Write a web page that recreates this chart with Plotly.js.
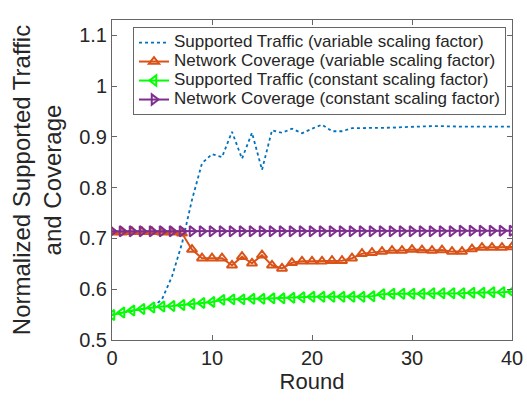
<!DOCTYPE html>
<html>
<head>
<meta charset="utf-8">
<script src="https://cdn.plot.ly/plotly-3.0.1.min.js"></script>
<style>html,body{margin:0;padding:0;background:#fff;}#chart{width:527px;height:402px;}</style>
</head>
<body>
<div id="chart"></div>
<script>
const rounds = Array.from({length: 41}, (_, i) => i);

const trafficVariable = [0.550, 0.554, 0.558, 0.561, 0.564, 0.580, 0.625, 0.690, 0.776, 0.848,
  0.866, 0.860, 0.910, 0.857, 0.908, 0.835, 0.913, 0.908, 0.916, 0.907,
  0.916, 0.924, 0.911, 0.911, 0.917, 0.917, 0.918, 0.918, 0.918, 0.919,
  0.920, 0.920, 0.921, 0.921, 0.920, 0.920, 0.920, 0.920, 0.920, 0.920, 0.920];

const coverageVariable = [0.712, 0.712, 0.713, 0.713, 0.713, 0.712, 0.712, 0.710, 0.678, 0.661,
  0.661, 0.661, 0.647, 0.664, 0.651, 0.667, 0.647, 0.641, 0.652, 0.655,
  0.655, 0.655, 0.656, 0.656, 0.661, 0.670, 0.672, 0.674, 0.676, 0.676,
  0.678, 0.677, 0.676, 0.677, 0.674, 0.674, 0.679, 0.682, 0.682, 0.682, 0.683];

const trafficConstant = [0.549, 0.554, 0.558, 0.561, 0.564, 0.566, 0.567, 0.569, 0.571, 0.573,
  0.575, 0.579, 0.580, 0.580, 0.581, 0.581, 0.582, 0.582, 0.583, 0.584,
  0.585, 0.585, 0.585, 0.585, 0.585, 0.585, 0.586, 0.590, 0.591, 0.591,
  0.591, 0.591, 0.592, 0.592, 0.592, 0.592, 0.593, 0.593, 0.594, 0.594, 0.595];

const coverageConstant = [0.714, 0.714, 0.714, 0.714, 0.714, 0.714, 0.714, 0.714, 0.714, 0.714,
  0.714, 0.714, 0.714, 0.714, 0.714, 0.714, 0.714, 0.714, 0.714, 0.714,
  0.714, 0.714, 0.714, 0.714, 0.714, 0.714, 0.714, 0.714, 0.714, 0.714,
  0.714, 0.714, 0.714, 0.714, 0.714, 0.715, 0.715, 0.715, 0.715, 0.715, 0.715];

const seriesNames = [
  'Supported Traffic (variable scaling factor)',
  'Network Coverage (variable scaling factor)',
  'Supported Traffic (constant scaling factor)',
  'Network Coverage (constant scaling factor)'
];
const xTicks = [0, 10, 20, 30, 40];
const yTicks = [0.5, 0.6, 0.7, 0.8, 0.9, 1, 1.1];

const legendName = s => '<span style="font-size:17px">' + s + '</span>';

const traces = [
  {x: rounds, y: trafficVariable, name: legendName(seriesNames[0]), mode: 'lines',
   line: {color: '#0072BD', width: 1.8, dash: 'dot'}},
  {x: rounds, y: coverageVariable, name: legendName(seriesNames[1]), mode: 'lines+markers',
   line: {color: '#D95319', width: 2},
   marker: {symbol: 'triangle-up-open', size: 9, color: '#D95319', line: {width: 2, color: '#D95319'}}},
  {x: rounds, y: trafficConstant, name: legendName(seriesNames[2]), mode: 'lines+markers',
   line: {color: '#00FF00', width: 2},
   marker: {symbol: 'triangle-left-open', size: 9, color: '#00FF00', line: {width: 2, color: '#00FF00'}}},
  {x: rounds, y: coverageConstant, name: legendName(seriesNames[3]), mode: 'lines+markers',
   line: {color: '#7E2F8E', width: 2},
   marker: {symbol: 'triangle-right-open', size: 9, color: '#7E2F8E', line: {width: 2, color: '#7E2F8E'}}}
];

const axisCommon = {
  showgrid: false, zeroline: false, showline: true, mirror: 'ticks',
  linecolor: '#666', linewidth: 1, ticks: 'inside', ticklen: 5, tickcolor: '#666',
  tickfont: {family: 'Liberation Sans, Arial, sans-serif', size: 20, color: '#262626'}
};

const layout = {
  width: 527, height: 402,
  margin: {l: 112, r: 15, t: 20, b: 62},
  paper_bgcolor: '#fff', plot_bgcolor: '#fff',
  font: {family: 'Liberation Sans, Arial, sans-serif', color: '#262626'},
  showlegend: true,
  legend: {
    x: 0.0525, y: 0.978, xanchor: 'left', yanchor: 'top',
    bgcolor: '#fff', bordercolor: '#666', borderwidth: 1,
    font: {family: 'Liberation Sans, Arial, sans-serif', size: 12, color: '#262626'},
    tracegroupgap: 0, itemwidth: 30
  },
  xaxis: Object.assign({}, axisCommon, {
    range: [0, 40], tickvals: xTicks,
    title: {text: 'Round', font: {size: 22, color: '#262626'}, standoff: 5}
  }),
  yaxis: Object.assign({}, axisCommon, {
    range: [0.5, 1.13], tickvals: yTicks,
    title: {text: 'Normalized Supported Traffic<br>and Coverage', font: {size: 24, color: '#262626'}, standoff: 10}
  })
};

Plotly.newPlot('chart', traces, layout, {staticPlot: true, displayModeBar: false});
</script>
</body>
</html>
